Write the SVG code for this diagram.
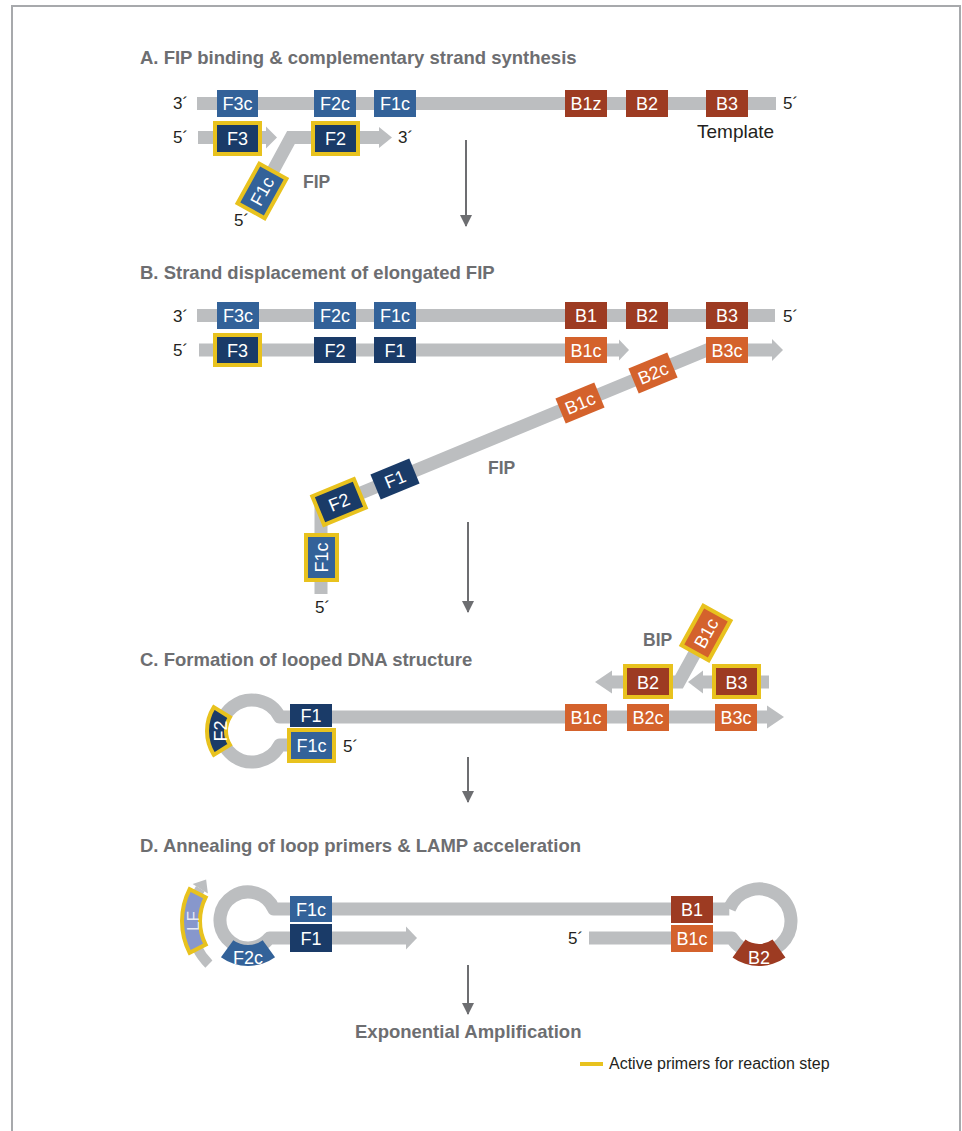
<svg xmlns="http://www.w3.org/2000/svg" width="962" height="1131" viewBox="0 0 962 1131">
<defs>
<style>
text{font-family:"Liberation Sans",Arial,sans-serif}
.title{font-size:18.5px;font-weight:bold;fill:#6d6e71}
.lbl{font-size:18px;fill:#ffffff;text-anchor:middle}
.end{font-size:17px;fill:#231f20}
.bold{font-size:17.5px;font-weight:bold;fill:#6d6e71}
.strand{fill:none;stroke:#bcbec0;stroke-width:13}
.thin{fill:none;stroke:#bcbec0;stroke-width:10}
.head{fill:#bcbec0}
.lb{fill:#336299}
.nv{fill:#1a3b68}
.rd{fill:#9d3b22}
.or{fill:#d4622c}
.act{stroke:#e8c21e;stroke-width:4}
.step{stroke:#6d6e71;stroke-width:2;fill:none}
</style>
<marker id="ah" viewBox="0 0 12 12" refX="11" refY="6" markerWidth="12" markerHeight="12" markerUnits="userSpaceOnUse" orient="auto">
<path d="M0,0 L12,6 L0,12 Z" fill="#6d6e71"/>
</marker>
</defs>
<rect width="962" height="1131" fill="#ffffff"/>
<path d="M12,1131 L12,6 L960,6 L960,1131" fill="none" stroke="#a7a9ac" stroke-width="2"/>

<g id="titles">
<text class="title" x="140" y="64">A. FIP binding &amp; complementary strand synthesis</text>
<text class="title" x="140" y="279">B. Strand displacement of elongated FIP</text>
<text class="title" x="140" y="666">C. Formation of looped DNA structure</text>
<text class="title" x="140" y="852">D. Annealing of loop primers &amp; LAMP acceleration</text>
</g>

<g id="connectors">
<!-- A -->
<path class="strand" d="M197,103.5 L776,103.5"/>
<path class="strand" d="M198,137.5 L267,137.5"/>
<polygon class="head" points="266,126.5 277,137.5 266,148.5"/>
<path class="strand" d="M262,191 L291,137.5 L381,137.5" stroke-linejoin="miter"/>
<polygon class="head" points="379,127 392,137.5 379,148"/>
<!-- B -->
<path class="strand" d="M197,315.5 L775,315.5"/>
<path class="strand" d="M199,350 L620,350"/>
<polygon class="head" points="619,339.5 629,350 619,360.5"/>
<path class="strand" d="M321,594 L321,509.5 L707,350 L773,350" stroke-linejoin="miter"/>
<polygon class="head" points="772,339 783,350 772,361"/>
<!-- C -->
<path class="strand" d="M768,717 L279.66,717 A31,31 0 1 0 279.66,745 L292,745" stroke-linejoin="round"/>
<polygon class="head" points="767,705.5 784,717 767,728.5"/>
<path class="strand" d="M706,633 L679,682 L611,682" stroke-linejoin="miter"/>
<polygon class="head" points="612,670.5 595,682 612,693.5"/>
<path class="strand" d="M769,682 L702,682"/>
<polygon class="head" points="703,670.5 688,682 703,693.5"/>
<!-- D -->
<path class="strand" d="M729.3,909 L273.75,909 A28,28 0 1 0 269.45,938 L407,938" stroke-linejoin="round"/>
<polygon class="head" points="406,926.5 417,938 406,949.5"/>
<path class="strand" d="M729.3,909 A32,32 0 1 1 731.9,938 L589,938" stroke-linejoin="round"/>
<path class="thin" d="M208.87,964.13 A61,61 0 0 1 200.27,888.68"/>
<polygon class="head" points="207.9,893.5 206.1,879.4 192.6,883.9"/>
<!-- step arrows -->
<line class="step" x1="466" y1="140" x2="466" y2="226" marker-end="url(#ah)"/>
<line class="step" x1="468" y1="522" x2="468" y2="612" marker-end="url(#ah)"/>
<line class="step" x1="468" y1="757" x2="468" y2="802" marker-end="url(#ah)"/>
<line class="step" x1="468" y1="965" x2="468" y2="1014" marker-end="url(#ah)"/>
</g>

<g id="sectionA">
<text class="end" x="173" y="109">3´</text>
<text class="end" x="783" y="109">5´</text>
<text class="end" x="173" y="143">5´</text>
<text class="end" x="398" y="143">3´</text>
<text class="end" x="234" y="226">5´</text>
<text x="697" y="138" style="font-size:19px;fill:#231f20">Template</text>
<text class="bold" x="303" y="188">FIP</text>
<g id="A-F3c"><rect class="lb" x="217" y="90" width="41" height="27"/><text class="lbl" x="237.5" y="110">F3c</text></g>
<g id="A-F2c"><rect class="lb" x="314" y="90" width="42" height="27"/><text class="lbl" x="335" y="110">F2c</text></g>
<g id="A-F1c"><rect class="lb" x="374" y="90" width="42" height="27"/><text class="lbl" x="395" y="110">F1c</text></g>
<g id="A-B1z"><rect class="rd" x="565" y="90" width="42" height="27"/><text class="lbl" x="586" y="110">B1z</text></g>
<g id="A-B2"><rect class="rd" x="626" y="90" width="42" height="27"/><text class="lbl" x="647" y="110">B2</text></g>
<g id="A-B3"><rect class="rd" x="706" y="90" width="42" height="27"/><text class="lbl" x="727" y="110">B3</text></g>
<g id="A-F3"><rect class="nv act" x="215" y="123" width="45" height="31"/><text class="lbl" x="237.5" y="145">F3</text></g>
<g id="A-F2"><rect class="nv act" x="313" y="123" width="45" height="31"/><text class="lbl" x="335.5" y="145">F2</text></g>
<g id="A-F1c-tail" transform="translate(262,191) rotate(-61)"><rect class="lb act" x="-22.5" y="-15.5" width="45" height="31"/><text class="lbl" x="0" y="6.5">F1c</text></g>
</g>

<g id="sectionB">
<text class="end" x="173" y="322">3´</text>
<text class="end" x="783" y="322">5´</text>
<text class="end" x="173" y="356">5´</text>
<text class="end" x="315" y="613">5´</text>
<text class="bold" x="488" y="474">FIP</text>
<g id="B-F3c"><rect class="lb" x="217" y="302" width="42" height="27"/><text class="lbl" x="238" y="322">F3c</text></g>
<g id="B-F2c"><rect class="lb" x="314" y="302" width="42" height="27"/><text class="lbl" x="335" y="322">F2c</text></g>
<g id="B-F1c"><rect class="lb" x="374" y="302" width="42" height="27"/><text class="lbl" x="395" y="322">F1c</text></g>
<g id="B-B1"><rect class="rd" x="565" y="302" width="42" height="27"/><text class="lbl" x="586" y="322">B1</text></g>
<g id="B-B2"><rect class="rd" x="626" y="302" width="42" height="27"/><text class="lbl" x="647" y="322">B2</text></g>
<g id="B-B3"><rect class="rd" x="706" y="302" width="42" height="27"/><text class="lbl" x="727" y="322">B3</text></g>
<g id="B-F3"><rect class="nv act" x="215" y="335" width="45" height="30"/><text class="lbl" x="237.5" y="356.5">F3</text></g>
<g id="B-F2"><rect class="nv" x="314" y="337" width="42" height="26"/><text class="lbl" x="335" y="356.5">F2</text></g>
<g id="B-F1"><rect class="nv" x="374" y="337" width="42" height="26"/><text class="lbl" x="395" y="356.5">F1</text></g>
<g id="B-B1c"><rect class="or" x="565" y="337" width="42" height="26"/><text class="lbl" x="586" y="356.5">B1c</text></g>
<g id="B-B3c"><rect class="or" x="706" y="337" width="42" height="26"/><text class="lbl" x="727" y="356.5">B3c</text></g>
<g id="B-B2c-r" transform="translate(653,373) rotate(-22.4)"><rect class="or" x="-21" y="-13.5" width="42" height="27"/><text class="lbl" x="0" y="6.5">B2c</text></g>
<g id="B-B1c-r" transform="translate(580,403) rotate(-22.4)"><rect class="or" x="-21" y="-13.5" width="42" height="27"/><text class="lbl" x="0" y="6.5">B1c</text></g>
<g id="B-F1-r" transform="translate(395,479) rotate(-22.4)"><rect class="nv" x="-21" y="-13.5" width="42" height="27"/><text class="lbl" x="0" y="6.5">F1</text></g>
<g id="B-F2-r" transform="translate(339,502) rotate(-22.4)"><rect class="nv act" x="-22.5" y="-15.5" width="45" height="31"/><text class="lbl" x="0" y="6.5">F2</text></g>
<g id="B-F1c-v" transform="translate(321.5,557.5) rotate(-90)"><rect class="lb act" x="-22.5" y="-15.5" width="45" height="31"/><text class="lbl" x="0" y="6.5">F1c</text></g>
</g>

<g id="sectionC">
<text class="bold" x="643" y="646">BIP</text>
<text class="end" x="343" y="752">5´</text>
<g id="C-F1"><rect class="nv" x="290" y="704" width="42" height="23"/><text class="lbl" x="311" y="722">F1</text></g>
<g id="C-F1c"><rect class="lb act" x="289" y="730" width="45" height="31"/><text class="lbl" x="311.5" y="752">F1c</text></g>
<g id="C-B1c"><rect class="or" x="565" y="704" width="42" height="27"/><text class="lbl" x="586" y="724">B1c</text></g>
<g id="C-B2c"><rect class="or" x="627" y="704" width="42" height="27"/><text class="lbl" x="648" y="724">B2c</text></g>
<g id="C-B3c"><rect class="or" x="715" y="704" width="42" height="27"/><text class="lbl" x="736" y="724">B3c</text></g>
<g id="C-B2"><rect class="rd act" x="625" y="666" width="46" height="31"/><text class="lbl" x="648" y="688.5">B2</text></g>
<g id="C-B3"><rect class="rd act" x="714" y="666" width="45" height="31"/><text class="lbl" x="736.5" y="688.5">B3</text></g>
<g id="C-B1c-r" transform="translate(706,633) rotate(-61)"><rect class="or act" x="-22.5" y="-15.5" width="45" height="31"/><text class="lbl" x="0" y="6.5">B1c</text></g>
<g id="C-F2"><path class="nv act" d="M213.84,707.15 A45,45 0 0 0 213.84,754.85 L229.95,744.78 A26,26 0 0 1 229.95,717.22 Z"/><text class="lbl" transform="translate(221,731) rotate(-90)" x="0" y="6">F2</text></g>
</g>

<g id="sectionD">
<text class="end" x="568" y="944">5´</text>
<g id="D-F1c"><rect class="lb" x="290" y="896" width="42" height="26"/><text class="lbl" x="311" y="915.5">F1c</text></g>
<g id="D-F1"><rect class="nv" x="290" y="924" width="42" height="28"/><text class="lbl" x="311" y="944.5">F1</text></g>
<g id="D-B1"><rect class="rd" x="671" y="896" width="42" height="27"/><text class="lbl" x="692" y="916">B1</text></g>
<g id="D-B1c"><rect class="or" x="671" y="925" width="42" height="27"/><text class="lbl" x="692" y="945">B1c</text></g>
<g id="D-F2c"><path class="lb" d="M275.04,957.21 A46,46 0 0 1 220.96,957.21 L233.31,940.23 A25,25 0 0 0 262.69,940.23 Z"/><text class="lbl" x="248" y="964">F2c</text></g>
<g id="D-B2"><path class="rd" d="M785.45,957.41 A45,45 0 0 1 732.55,957.41 L745.48,939.61 A23,23 0 0 0 772.52,939.61 Z"/><text class="lbl" x="759" y="964">B2</text></g>
<g id="D-LF"><path d="M189.63,889.22 A70,70 0 0 0 189.63,952.78 L205.67,944.61 A52,52 0 0 1 205.67,897.39 Z" fill="#8797cc" class="act"/><text class="lbl" transform="translate(193,921) rotate(-90)" x="0" y="6" style="font-size:17px;fill:#e6eaf5">LF</text></g>
</g>

<g id="footer">
<text class="bold" x="355" y="1038" style="font-size:18.5px">Exponential Amplification</text>
<line x1="580" y1="1064" x2="603" y2="1064" stroke="#e8c21e" stroke-width="4"/>
<text x="609" y="1069" style="font-size:16px;fill:#231f20">Active primers for reaction step</text>
</g>
</svg>
